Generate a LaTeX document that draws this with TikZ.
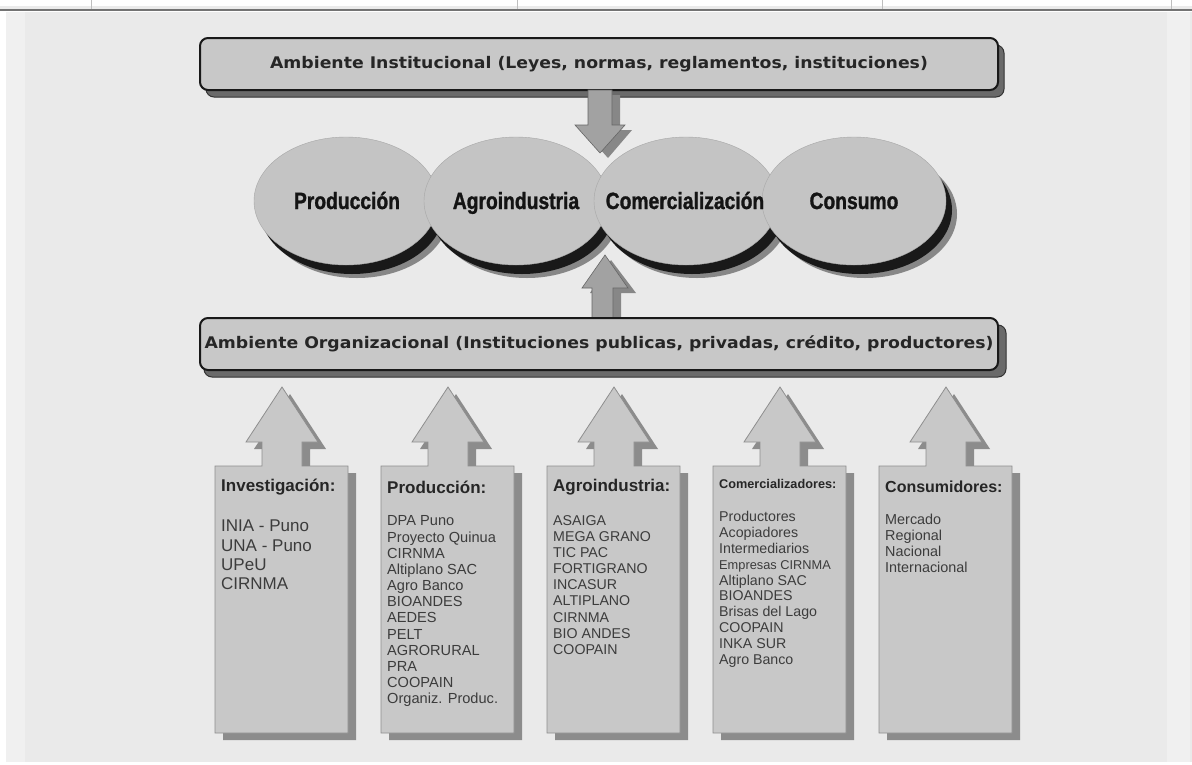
\documentclass[tikz,border=0pt]{standalone}
\usepackage{fontspec}
\setmainfont{Liberation Sans}
\newfontfamily\ellfont[FakeStretch=0.82,FakeBold=1.2]{Liberation Sans Bold}
\newfontfamily\boxfont[FakeStretch=1.08]{DejaVu Sans Bold}
\usetikzlibrary{shapes.geometric}
\definecolor{bgc}{HTML}{EAEAEA}
\definecolor{bgl}{HTML}{F0F0F0}
\definecolor{fillc}{HTML}{C8C8C8}
\definecolor{ellc}{HTML}{C4C4C4}
\definecolor{boxshadow}{HTML}{6A6A6A}
\definecolor{colshadow}{HTML}{8C8C8C}
\definecolor{colborder}{HTML}{8E8E8E}
\definecolor{arrc}{HTML}{A2A2A2}
\definecolor{arrshadow}{HTML}{878787}
\definecolor{txt}{HTML}{262626}
\tikzset{
  envbox/.style={draw=black!90, line width=2pt, rounded corners=8pt, fill=fillc,
    minimum width=798pt, minimum height=52pt, inner sep=0pt,
    font=\boxfont\fontsize{16}{19}\selectfont, text=txt},
  envshadow/.style={fill=boxshadow, draw=black!80, line width=1pt, rounded corners=8pt},
  stage/.style={ellipse, fill=ellc, draw=ellc!85!black, line width=0.4pt,
    minimum width=184pt, minimum height=128pt, inner sep=0pt},
  stagetext/.style={anchor=base, inner sep=0pt, font=\ellfont\fontsize{23.5}{26}\selectfont, text=black!92},
  stageshadowA/.style={ellipse, fill=black!90, minimum width=184pt, minimum height=128pt, inner sep=0pt},
  stageshadowB/.style={ellipse, fill=arrshadow, minimum width=184pt, minimum height=128pt, inner sep=0pt},
  blockarrow/.style={fill=arrc, draw=black!60, line width=0.6pt},
  blockshadow/.style={fill=arrshadow},
  coltitle/.style={anchor=west, inner sep=0pt, font=\bfseries\fontsize{17}{20}\selectfont, text=txt},
  collist/.style={anchor=north west, inner sep=0pt, align=left, text=txt!90},
  colpic/.pic={
    \fill[colshadow] (8,274) -- (8,7) -- (55,7) -- (55,-17) -- (39,-17) -- (75,-72) -- (111,-17) -- (95,-17) -- (95,7) -- (141,7) -- (141,274) -- cycle;
    \filldraw[fill=fillc, draw=colborder, line width=0.8pt] (0,267) -- (0,0) -- (47,0) -- (47,-24) -- (31,-24) -- (67,-79) -- (103,-24) -- (87,-24) -- (87,0) -- (133,0) -- (133,267) -- cycle;
  }
}
\begin{document}
\begin{tikzpicture}[x=1pt,y=-1pt]
\useasboundingbox (0,0) rectangle (1192,764);
\fill[white] (0,0) rectangle (1192,764);
\fill[bgc] (6,12) rectangle (1192,762);
\fill[bgl] (6,12) rectangle (25,762);
\fill[bgl] (1167,12) rectangle (1190,762);
\fill[black!8] (0,6) rectangle (1192,9);
\draw[black!55, line width=1.3pt] (0,10) -- (1192,10);
\foreach \tx in {91,517,882,1171} \draw[black!25, line width=0.6pt] (\tx,0) -- (\tx,9);

% top box
\fill[envshadow] (206,45) rectangle (1004,97);
\node[envbox] (inst) at (599,64) {Ambiente Institucional (Leyes, normas, reglamentos, instituciones)};

% down arrow
\fill[blockshadow] (596,95) -- (620,95) -- (620,130) -- (632,130) -- (608,158) -- (583,130) -- (596,130) -- cycle;
\filldraw[blockarrow] (588,90) -- (612,90) -- (612,125) -- (625,125) -- (600,153) -- (575,125) -- (588,125) -- cycle;

% ellipses
\foreach \cx/\nm in {346/prod, 516/agro, 686/come, 854/cons}{
  \node[stageshadowB] at (\cx+11,214) {};
  \node[stageshadowA] at (\cx+6,210) {};
  \node[stage] (\nm) at (\cx,201) {};
}
\node[stagetext] (prodt) at (347,209) {Producción};
\node[stagetext] (agrot) at (516,209) {Agroindustria};
\node[stagetext] (comet) at (685,209) {Comercialización};
\node[stagetext] (const) at (854,209) {Consumo};

% up arrow
\fill[blockshadow] (600,323) -- (621,323) -- (621,293) -- (636,293) -- (611,260) -- (590,293) -- (600,293) -- cycle;
\filldraw[blockarrow] (592,318) -- (613,318) -- (613,288) -- (628,288) -- (605,255) -- (582,288) -- (592,288) -- cycle;

% organizational box
\fill[envshadow] (204,325) rectangle (1006,377);
\node[envbox] (org) at (599,344) {Ambiente Organizacional (Instituciones publicas, privadas, crédito, productores)};

% columns
\foreach \lx in {215,381,547,713,879} \pic at (\lx,466) {colpic};

\node[coltitle] (t1) at (221,487) {Investigación:};
\node[collist, font=\fontsize{17}{19.2}\selectfont] (l1) at (221,520) {INIA - Puno\\UNA - Puno\\UPeU\\CIRNMA};

\node[coltitle] (t2) at (387,487) {Producción:};
\node[collist, font=\fontsize{14.6}{16.15}\selectfont] (l2) at (387,515.7) {DPA Puno\\Proyecto Quinua\\CIRNMA\\Altiplano SAC\\Agro Banco\\BIOANDES\\AEDES\\PELT\\AGRORURAL\\PRA\\COOPAIN\\Organiz. Produc.};

\node[coltitle] (t3) at (553,487) {Agroindustria:};
\node[collist, font=\fontsize{14.2}{16.17}\selectfont] (l3) at (553,515) {ASAIGA\\MEGA GRANO\\TIC PAC\\FORTIGRANO\\INCASUR\\ALTIPLANO\\CIRNMA\\BIO ANDES\\COOPAIN};

\node[coltitle, font=\bfseries\fontsize{12.7}{15}\selectfont] (t4) at (719,484) {Comercializadores:};
\node[collist, font=\fontsize{14.2}{15.96}\selectfont] (l4) at (719,510.7) {Productores\\Acopiadores\\Intermediarios\\{\fontsize{12.8}{15.96}\selectfont Empresas CIRNMA}\\Altiplano SAC\\BIOANDES\\Brisas del Lago\\COOPAIN\\INKA SUR\\Agro Banco};

\node[coltitle, font=\bfseries\fontsize{16}{19}\selectfont] (t5) at (885,487) {Consumidores:};
\node[collist, font=\fontsize{14.4}{16.1}\selectfont] (l5) at (885,513.8) {Mercado\\Regional\\Nacional\\Internacional};
\end{tikzpicture}
\end{document}
